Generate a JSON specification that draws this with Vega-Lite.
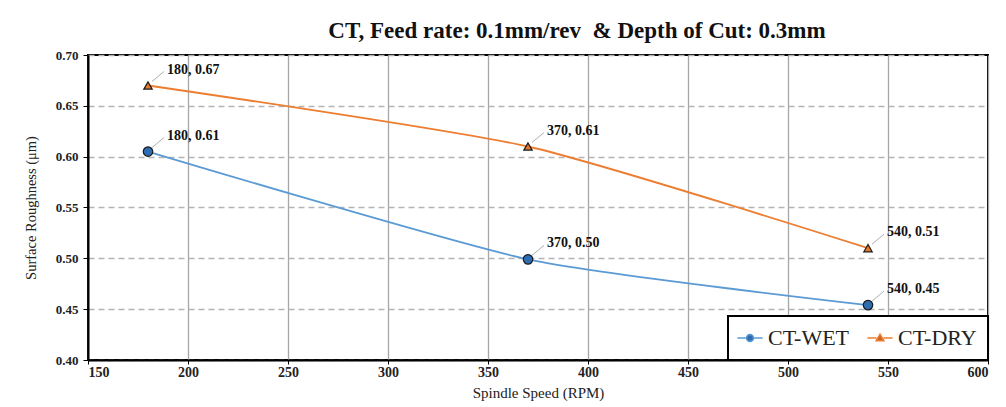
{
  "$schema": "https://vega.github.io/schema/vega-lite/v6.json",
  "width": 900,
  "height": 305,
  "autosize": {"type": "none"},
  "padding": {"left": 88, "top": 55, "right": 18, "bottom": 47},
  "background": "white",
  "title": {
    "text": "CT, Feed rate: 0.1mm/rev\u00a0 & Depth of Cut: 0.3mm",
    "font": "Liberation Serif",
    "fontSize": 23,
    "fontWeight": "bold",
    "color": "#111111",
    "anchor": "middle",
    "dx": 39,
    "offset": 6
  },
  "data": {
    "values": [
      {"speed": 180, "roughness": 0.605, "series": "CT-WET", "label": "180, 0.61"},
      {"speed": 370, "roughness": 0.499, "series": "CT-WET", "label": "370, 0.50"},
      {"speed": 540, "roughness": 0.454, "series": "CT-WET", "label": "540, 0.45"},
      {"speed": 180, "roughness": 0.670, "series": "CT-DRY", "label": "180, 0.67"},
      {"speed": 370, "roughness": 0.610, "series": "CT-DRY", "label": "370, 0.61"},
      {"speed": 540, "roughness": 0.510, "series": "CT-DRY", "label": "540, 0.51"}
    ]
  },
  "encoding": {
    "x": {
      "field": "speed",
      "type": "quantitative",
      "scale": {"domain": [150, 600], "nice": false, "zero": false},
      "axis": {
        "title": "Spindle Speed (RPM)",
        "values": [150, 200, 250, 300, 350, 400, 450, 500, 550, 600],
        "grid": true,
        "gridColor": "#A6A6A6",
        "gridWidth": 1.3,
        "domainColor": "#000000",
        "domainWidth": 2,
        "tickColor": "#000000",
        "tickSize": 4,
        "labelPadding": 1,
        "labelFont": "Liberation Serif",
        "labelFontSize": 14,
        "labelFontWeight": "bold",
        "labelColor": "#222222",
        "titleFont": "Liberation Serif",
        "titleFontSize": 15,
        "titleFontWeight": "normal",
        "titleColor": "#222222",
        "titlePadding": 6
      }
    },
    "y": {
      "field": "roughness",
      "type": "quantitative",
      "scale": {"domain": [0.4, 0.7], "nice": false, "zero": false},
      "axis": {
        "title": "Surface Roughness (μm)",
        "values": [0.4, 0.45, 0.5, 0.55, 0.6, 0.65, 0.7],
        "format": ".2f",
        "grid": true,
        "gridColor": "#B4B4B4",
        "gridWidth": 1.3,
        "gridDash": [6, 4],
        "domainColor": "#000000",
        "domainWidth": 2,
        "tickColor": "#000000",
        "tickSize": 5,
        "labelPadding": 5,
        "labelFont": "Liberation Serif",
        "labelFontSize": 13,
        "labelFontWeight": "bold",
        "labelColor": "#222222",
        "titleFont": "Liberation Serif",
        "titleFontSize": 14.5,
        "titleFontWeight": "normal",
        "titleColor": "#222222",
        "titlePadding": 17
      }
    }
  },
  "layer": [
    {
      "mark": {"type": "line", "interpolate": "cardinal", "tension": 0.4, "strokeWidth": 1.8},
      "encoding": {
        "color": {
          "field": "series",
          "type": "nominal",
          "scale": {"domain": ["CT-WET", "CT-DRY"], "range": ["#5B9BD5", "#ED7D31"]},
          "legend": {
            "title": null,
            "orient": "bottom-right",
            "direction": "horizontal",
            "offset": 0,
            "padding": 11,
            "fillColor": "white",
            "strokeColor": "#000000",
            "cornerRadius": 0,
            "symbolSize": 196,
            "symbolStrokeWidth": 1.5,
            "labelOffset": 7,
            "columnPadding": 14,
            "labelFont": "Liberation Serif",
            "labelFontSize": 22,
            "labelColor": "#222222",
            "encode": {
              "legend": {
                "update": {"strokeWidth": {"value": 2}}
              },
              "symbols": {
                "update": {
                  "shape": {"signal": "datum.value === 'CT-WET' ? 'M-1.8,0H-0.5M0.5,0H1.8M0.5,0A0.5,0.5,0,1,1,-0.5,0A0.5,0.5,0,1,1,0.5,0Z' : 'M-1.8,0H-0.5M0.5,0H1.8M0,-0.55L0.55,0.4L-0.55,0.4Z'"},
                  "fill": {"signal": "datum.value === 'CT-WET' ? '#2E6DB2' : '#C8651E'"},
                  "fillOpacity": {"value": 1}
                }
              }
            }
          }
        }
      }
    },
    {
      "mark": {"type": "rule", "color": "#9A9A9A", "strokeWidth": 0.8, "xOffset": 4, "yOffset": -4, "x2Offset": 16, "y2Offset": -14},
      "encoding": {
        "x2": {"field": "speed"},
        "y2": {"field": "roughness"}
      }
    },
    {
      "transform": [{"filter": "datum.series === 'CT-WET'"}],
      "mark": {"type": "point", "shape": "circle", "filled": true, "fill": "#2E6DB2", "stroke": "#1A1A1A", "strokeWidth": 1.2, "opacity": 1, "size": 90},
      "encoding": {}
    },
    {
      "transform": [{"filter": "datum.series === 'CT-DRY'"}],
      "mark": {"type": "point", "shape": "triangle-up", "filled": true, "fill": "#E8782C", "stroke": "#1A1A1A", "strokeWidth": 1.2, "opacity": 1, "size": 70},
      "encoding": {}
    },
    {
      "mark": {"type": "text", "align": "left", "baseline": "middle", "dx": 19, "dy": -16, "font": "Liberation Serif", "fontSize": 14, "fontWeight": "bold", "color": "#111111"},
      "encoding": {
        "text": {"field": "label", "type": "nominal"}
      }
    }
  ],
  "config": {
    "view": {"stroke": "#000000", "strokeWidth": 2}
  }
}
